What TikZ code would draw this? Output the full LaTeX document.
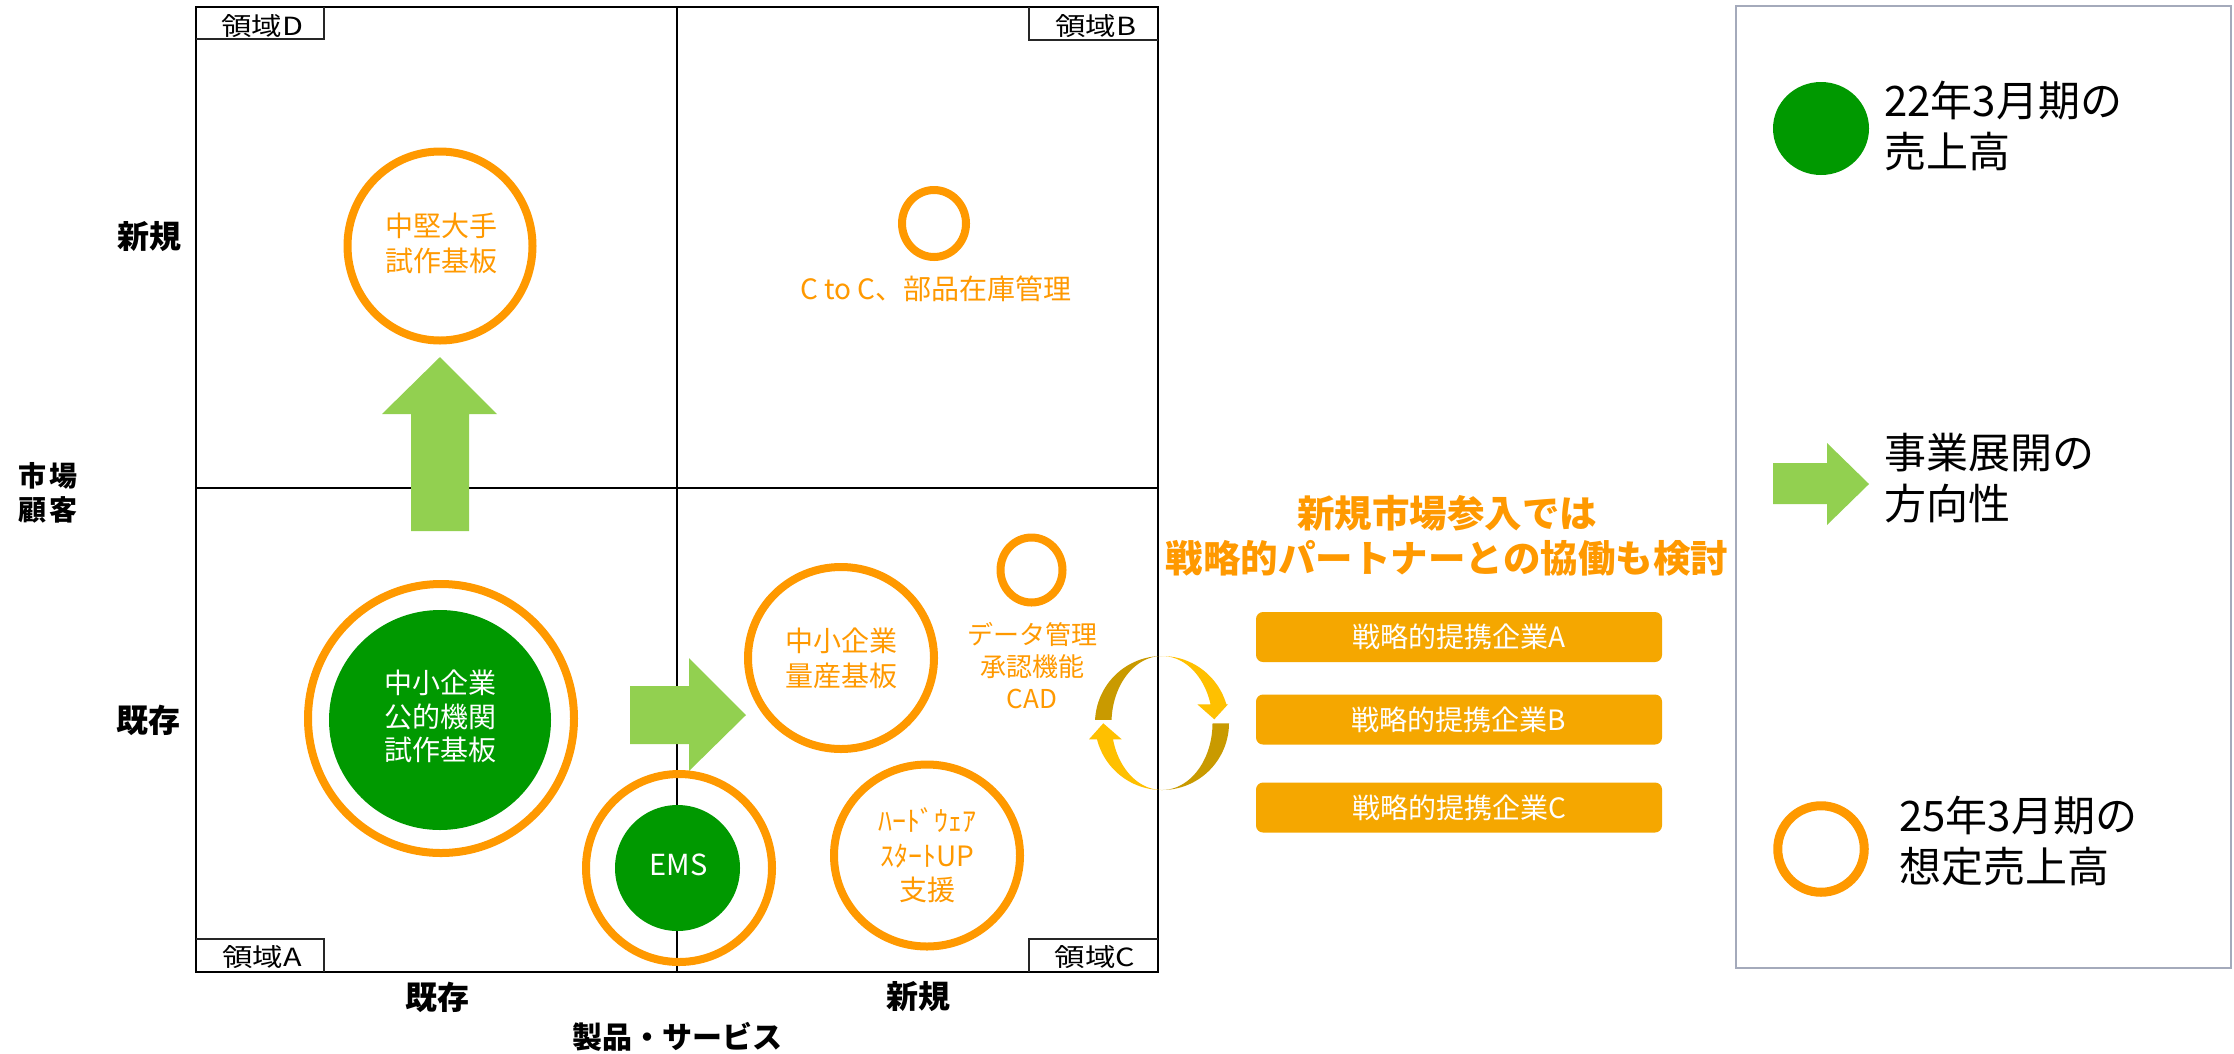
\documentclass[tikz,border=0pt]{standalone}
\usepackage{fontspec}
\setmainfont{Noto Sans CJK JP}
\newfontfamily\labfont[FakeStretch=1.22]{Noto Sans CJK JP}
\usetikzlibrary{shapes.geometric}
\definecolor{ogr}{HTML}{FF9900}
\definecolor{dgr}{HTML}{009900}
\definecolor{lgr}{HTML}{92D050}
\definecolor{partnerc}{HTML}{F5A700}
\definecolor{goldA}{HTML}{C99A00}
\definecolor{goldB}{HTML}{FFC000}
\definecolor{lgbox}{HTML}{A4AABB}
\newcommand\fsz[2]{\fontsize{#1}{#2}\selectfont}
\begin{document}
\begin{tikzpicture}[x=1pt,y=-1pt,
  gridline/.style={line width=2.2pt, black},
  labline/.style={line width=1.5pt, black!85},
  regionlab/.style={font=\labfont\fsz{25}{30}, inner sep=0pt},
  axislab/.style={font=\bfseries\fsz{32}{38}, inner sep=0pt},
  ring/.style={ellipse, draw=ogr, line width=8pt, inner sep=0pt, outer sep=0pt},
  gdisk/.style={ellipse, fill=dgr, inner sep=0pt, outer sep=0pt},
  circtext/.style={text=ogr, align=center, font=\fsz{28}{35}, inner sep=0pt},
  partner/.style={fill=partnerc, rounded corners=7pt, minimum width=406pt, minimum height=50pt, text=white, font=\fsz{28}{34}, inner sep=0pt},
  legtext/.style={anchor=west, align=left, font=\fsz{42}{51}, inner sep=0pt},
  heading/.style={text=ogr, align=center, font=\bfseries\fsz{37.5}{45}, inner sep=0pt}
]
\useasboundingbox (0,0) rectangle (2234,1053);
\fill[white] (0,0) rectangle (2234,1053);

% grid
\draw[gridline] (196,7) rectangle (1158,972);
\draw[gridline] (677,7) -- (677,972);
\draw[gridline] (196,488) -- (1158,488);

% region label boxes
\draw[labline] (196,39) -| (324,7);
\draw[labline] (1029,7) |- (1158,40);
\draw[labline] (196,939) -| (324,972);
\draw[labline] (1029,972) |- (1158,939);
\node[regionlab] (regD) at (262,26) {領域D};
\node[regionlab] (regB) at (1096,26) {領域B};
\node[regionlab] (regA) at (262,957) {領域A};
\node[regionlab] (regC) at (1095,957) {領域C};

% axis labels
\node[axislab] (yNew) at (149,237) {新規};
\node[axislab] (yOld) at (148,720) {既存};
\node[axislab] (xOld) at (437,997) {既存};
\node[axislab] (xNew) at (918,997) {新規};
\node[axislab, font=\bfseries\fsz{30}{36}] (xTitle) at (677,1037) {製品・サービス};
\node[axislab, align=center, font=\bfseries\fsz{28}{34}] (yTitle) at (48,493) {市\hspace{4pt}場\\顧\hspace{4pt}客};

% green arrows
\fill[lgr] (411,531) -- (411,414) -- (382,414) -- (440,357) -- (497,414) -- (469,414) -- (469,531) -- cycle;
\fill[lgr] (630,686) -- (689,686) -- (689,658) -- (746,715) -- (689,771) -- (689,744) -- (630,744) -- cycle;

% circles
\node[ring, minimum width=185pt, minimum height=189pt] (ringD) at (440,246) {};
\node[circtext] (txtD) at (441,243) {中堅大手\\試作基板};
\node[ring, minimum width=64pt, minimum height=67pt] (ringB) at (934,223.5) {};
\node[circtext] (txtB) at (936,289) {C to C、部品在庫管理};
\node[ring, minimum width=266pt, minimum height=269pt] (ringA) at (441,718.5) {};
\node[gdisk, minimum width=222pt, minimum height=220pt] (diskA) at (440,720) {};
\node[circtext, text=white, font=\fsz{28}{33.5}] (txtA) at (440,716.5) {中小企業\\公的機関\\試作基板};
\node[ring, minimum width=186pt, minimum height=188pt] (ringE) at (679,868) {};
\node[gdisk, minimum width=125pt, minimum height=126pt] (diskE) at (677.5,868) {};
\node[circtext, text=white, font=\fsz{29}{35}] (txtE) at (678.5,865) {EMS};
\node[ring, minimum width=186pt, minimum height=182pt] (ringM) at (841,658) {};
\node[circtext] (txtM) at (841,658.5) {中小企業\\量産基板};
\node[ring, minimum width=62pt, minimum height=65pt] (ringK) at (1031.5,570) {};
\node[circtext, font=\fsz{26}{32}] (txtK) at (1032,666) {データ管理\\承認機能\\CAD};
\node[ring, minimum width=186pt, minimum height=182pt] (ringH) at (927,855.5) {};
\node[circtext, font=\fsz{28}{34.5}] (txtH) at (927.7,855.5) {ﾊｰﾄﾞｳｪｱ\\ｽﾀｰﾄUP\\支援};

% cycle arrows
\fill[goldA] plot[domain=182.6:270, samples=40] ({1162+67*cos(\x)},{723+67*sin(\x)})
  -- plot[domain=270:182.6, samples=40] ({1162+50.5*cos(\x)},{723+67*sin(\x)}) -- cycle;
\fill[goldB] plot[domain=270:343.8, samples=40] ({1162+67*cos(\x)},{723+67*sin(\x)})
  -- (1228,704.3) -- (1214.3,719.3) -- (1197.3,704.3)
  -- plot[domain=343.8:270, samples=40] ({1162+50.5*cos(\x)},{723+67*sin(\x)}) -- cycle;
\fill[goldA] plot[domain=0.3:90, samples=40] ({1162+67*cos(\x)},{723+67*sin(\x)})
  -- plot[domain=90:0.3, samples=40] ({1162+50.5*cos(\x)},{723+67*sin(\x)}) -- cycle;
\fill[goldB] plot[domain=90:165.9, samples=40] ({1162+67*cos(\x)},{723+67*sin(\x)})
  -- (1089,739.3) -- (1103.3,723.3) -- (1121.7,739.3)
  -- plot[domain=165.9:90, samples=40] ({1162+50.5*cos(\x)},{723+67*sin(\x)}) -- cycle;

% heading and partners
\node[heading] (head) at (1447,535.5) {新規市場参入では\\戦略的パートナーとの協働も検討};
\node[partner] (pA) at (1459,637) {戦略的提携企業A};
\node[partner] (pB) at (1459,719.5) {戦略的提携企業B};
\node[partner] (pC) at (1459,807.5) {戦略的提携企業C};

% legend
\node[draw=lgbox, line width=2pt, minimum width=495pt, minimum height=962pt, inner sep=0pt] (legend) at (1983.5,487) {};
\node[gdisk, minimum width=96pt, minimum height=93pt] (lgG) at (1821,128.5) {};
\node[legtext] (lgGt) at (1884,126) {22年3月期の\\売上高};
\fill[lgr] (1773,463) -- (1827,463) -- (1827,443) -- (1869,484) -- (1827,525) -- (1827,504) -- (1773,504) -- cycle;
\node[legtext] (lgAt) at (1884,478.5) {事業展開の\\方向性};
\node[ring, line width=9pt, minimum width=86.5pt, minimum height=86.5pt] (lgO) at (1821,849) {};
\node[legtext] (lgOt) at (1899,841.5) {25年3月期の\\想定売上高};
\end{tikzpicture}
\end{document}
